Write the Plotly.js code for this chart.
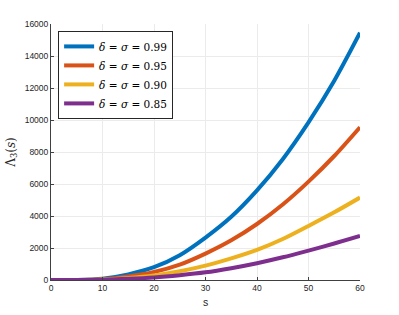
<!DOCTYPE html>
<html>
<head>
<meta charset="utf-8">
<script src="https://cdn.plot.ly/plotly-3.0.1.min.js"></script>
<style>html,body{margin:0;padding:0;background:#fff;}#chart{width:399px;height:315px;}</style>
</head>
<body>
<div id="chart"></div>
<script>
var s = [0, 5, 10, 15, 20, 25, 30, 35, 40, 45, 50, 55, 60];
var lam099 = [0, 5, 80, 350, 800, 1550, 2650, 3950, 5600, 7550, 9850, 12450, 15450];
var lam095 = [0, 3, 50, 220, 500, 960, 1650, 2480, 3500, 4720, 6150, 7750, 9550];
var lam090 = [0, 3, 35, 130, 290, 550, 900, 1350, 1880, 2560, 3380, 4230, 5150];
var lam085 = [0, 2, 20, 75, 160, 300, 480, 740, 1050, 1420, 1840, 2280, 2750];
var names = ['<i>δ</i> = <i>σ</i> = 0.99', '<i>δ</i> = <i>σ</i> = 0.95', '<i>δ</i> = <i>σ</i> = 0.90', '<i>δ</i> = <i>σ</i> = 0.85'];
var colors = ['#0072BD', '#D95319', '#EDB120', '#7E2F8E'];
var series = [lam099, lam095, lam090, lam085];
var xTicks = [0, 10, 20, 30, 40, 50, 60];
var yTicks = [0, 2000, 4000, 6000, 8000, 10000, 12000, 14000, 16000];

var traces = series.map(function(v, i) {
  return {x: s, y: v, type: 'scatter', mode: 'lines', name: names[i],
          line: {color: colors[i], width: 4, shape: 'spline', smoothing: 0.8}};
});

var axisCommon = {
  showline: true, linecolor: '#404040', linewidth: 1,
  showgrid: true, gridcolor: '#ebebeb', gridwidth: 1,
  zeroline: false, ticks: 'inside', ticklen: 3, tickcolor: '#404040',
  tickfont: {family: 'Liberation Sans, Arial, sans-serif', size: 8.5, color: '#262626'},
  mirror: false
};

var layout = {
  width: 399, height: 315,
  margin: {l: 51, r: 39, t: 24, b: 35},
  paper_bgcolor: '#ffffff', plot_bgcolor: '#ffffff',
  showlegend: true,
  xaxis: Object.assign({}, axisCommon, {
    range: [0, 60], tickvals: xTicks, ticktext: xTicks.map(String),
    title: {text: 's', font: {family: 'Liberation Sans, Arial, sans-serif', size: 10.5, color: '#262626'}, standoff: 6}
  }),
  yaxis: Object.assign({}, axisCommon, {
    range: [0, 16000], tickvals: yTicks, ticktext: yTicks.map(String),
    title: {text: 'Λ<sub>3</sub>(<i>s</i>)', font: {family: 'DejaVu Serif, Liberation Serif, serif', size: 12, color: '#262626'}, standoff: 6}
  }),
  legend: {
    x: 0.023, y: 0.973, xanchor: 'left', yanchor: 'top',
    bgcolor: '#ffffff', bordercolor: '#262626', borderwidth: 1,
    font: {family: 'DejaVu Serif, Liberation Serif, serif', size: 10.5, color: '#000000'},
    itemwidth: 30, tracegroupgap: 0
  }
};

Plotly.newPlot('chart', traces, layout, {staticPlot: true, displayModeBar: false});
</script>
</body>
</html>
